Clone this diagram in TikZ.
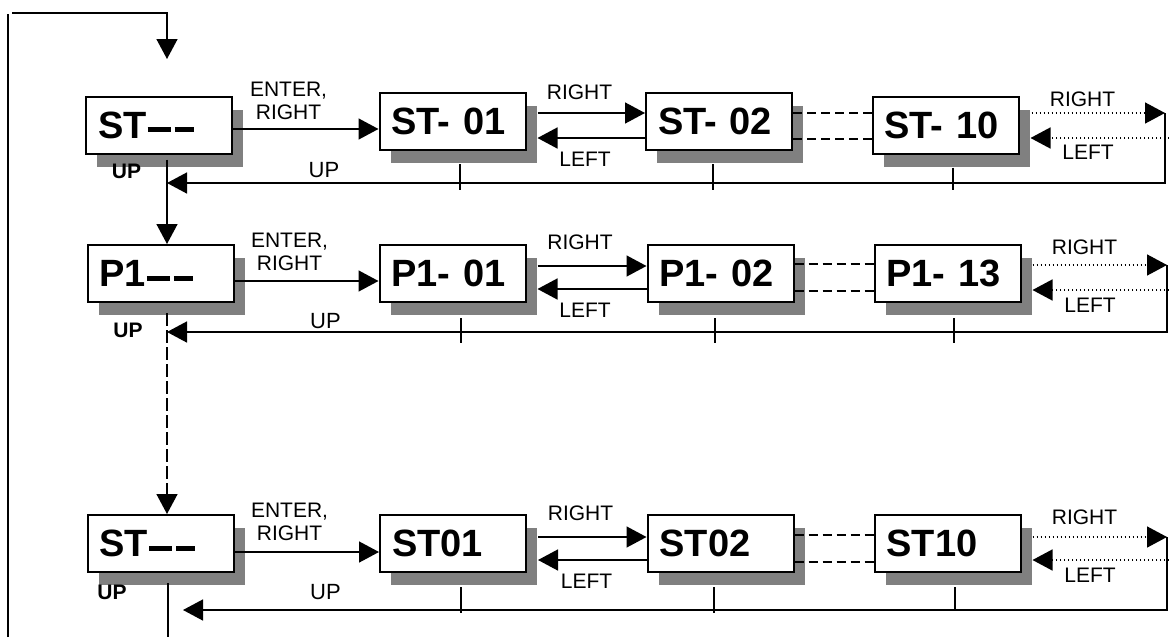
\documentclass[tikz,border=0pt]{standalone}
\usepackage{fontspec}
\setmainfont{Liberation Sans}
\usetikzlibrary{arrows.meta,shadows,calc}
\definecolor{shgray}{RGB}{128,128,128}
\newcommand{\dashpair}{\kern1pt\rule[6pt]{23pt}{5pt}\kern4pt\rule[6pt]{19pt}{5pt}}
\begin{document}
\begin{tikzpicture}[x=1pt,y=-1pt,
  box/.style={draw, line width=2pt, fill=white, minimum width=146pt, minimum height=57pt,
    text width=122pt, inner xsep=12pt, inner ysep=0pt, align=left,
    font=\fontsize{38}{40}\selectfont\bfseries,
    drop shadow={shadow xshift=11pt, shadow yshift=-13pt, fill=shgray, opacity=1, draw=none}},
  lbl/.style={font=\fontsize{21}{23}\selectfont, inner sep=0pt, align=center},
  upl/.style={font=\fontsize{22}{24}\selectfont, inner sep=0pt},
  bup/.style={font=\fontsize{21}{23}\selectfont\bfseries, inner sep=0pt},
  con/.style={line width=1.5pt},
  arr/.style={con, -{Triangle[length=20pt 0 0,width=21pt 0 0]}},
  dsh/.style={con, dash pattern=on 9pt off 5pt},
  vdsh/.style={con, dash pattern=on 13pt off 4pt},
  dtt/.style={con, dash pattern=on 1.5pt off 2.5pt},
]
\useasboundingbox (0,0) rectangle (1169,637);

% ---------- boxes ----------
\node[box] (A1) at (159,125) {ST\dashpair};
\node[box] (B1) at (452.5,121.5) {ST- 01};
\node[box] (C1) at (719,121.5) {ST- 02};
\node[box] (D1) at (945.5,125) {ST- 10};

\node[box] (A2) at (160.5,273.5) {P1\dashpair};
\node[box] (B2) at (452.5,273.5) {P1- 01};
\node[box] (C2) at (720.5,273.5) {P1- 02};
\node[box] (D2) at (947.5,273.5) {P1- 13};

\node[box] (A3) at (160.5,543.5) {ST\dashpair};
\node[box] (B3) at (453,543.5) {ST01};
\node[box] (C3) at (720.5,543.5) {ST02};
\node[box] (D3) at (947.5,543.5) {ST10};

% shadow edges
\coordinate (B1s) at ($(B1.east)+(11,0)$);
\coordinate (D1s) at ($(D1.east)+(11,0)$);
\coordinate (B2s) at ($(B2.east)+(11,0)$);
\coordinate (D2s) at ($(D2.east)+(11,0)$);
\coordinate (B3s) at ($(B3.east)+(11,0)$);
\coordinate (D3s) at ($(D3.east)+(11,0)$);

% ---------- outer loop ----------
\coordinate (T0) at (8,637);
\coordinate (T1) at (8,14);
\coordinate (T2) at (12,13);
\coordinate (T3) at (167,59);
\draw[con] (T0) -- (T1);
\draw[arr] (T2) -| (T3);

% ---------- row 1 ----------
\coordinate (en1) at ($(A1.east)+(0,4)$);
\coordinate (ri1) at ($(B1s)+(0,-8.5)$);
\coordinate (le1) at ($(C1.west)+(0,16.5)$);
\coordinate (da1) at ($(C1.east)+(0,-8.5)$);
\coordinate (db1) at ($(C1.east)+(0,17.5)$);
\coordinate (do1) at ($(D1.east)+(12,-12)$);
\coordinate (R1) at (1165,113);
\coordinate (E1) at (1169,138);
\coordinate (U1) at (167,183);
\coordinate (v1) at ($(A1.south)+(8,5)$);
\draw[arr] (en1) -- (en1 -| B1.west);
\draw[arr] (ri1) -- (ri1 -| C1.west);
\draw[arr] (le1) -- (le1 -| B1s);
\draw[dsh] (da1) -- (da1 -| D1.west);
\draw[dsh] (db1) -- (db1 -| D1.west);
\draw[arr,dtt] (do1) -- (R1);
\draw[arr,dtt] (E1) -- (E1 -| D1s);
\draw[arr] (R1) |- (U1);
\draw[arr] (v1) -- (v1 |- A2.north);
\draw[con] ($(B1.south)+(7.5,13)$) -- ++(0,26);
\draw[con] ($(C1.south)+(-6,13)$) -- ++(0,26);
\draw[con] ($(D1.south)+(7.5,13)$) -- ++(0,22);

\node[lbl] (e1) at (288.5,101) {ENTER,\\RIGHT};
\node[bup] (u1) at (126.5,171) {UP};
\node[upl] (up1) at (324,170.5) {UP};
\node[lbl] (r1) at (579.5,92) {RIGHT};
\node[lbl] (lf1) at (585,159.5) {LEFT};
\node[lbl] (r1b) at (1082.5,99) {RIGHT};
\node[lbl] (lf1b) at (1088,152.5) {LEFT};

% ---------- row 2 ----------
\coordinate (en2) at ($(A2.east)+(0,7.5)$);
\coordinate (ri2) at ($(B2s)+(0,-7.5)$);
\coordinate (le2) at ($(C2.west)+(0,15.5)$);
\coordinate (da2) at ($(C2.east)+(0,-9.5)$);
\coordinate (db2) at ($(C2.east)+(0,17.5)$);
\coordinate (do2) at ($(D2s)+(0,-8.5)$);
\coordinate (R2) at (1167,265);
\coordinate (E2) at (1169,290);
\coordinate (U2) at (167,332);
\coordinate (v2) at ($(A2.south)+(6.5,10)$);
\draw[arr] (en2) -- (en2 -| B2.west);
\draw[arr] (ri2) -- (ri2 -| C2.west);
\draw[arr] (le2) -- (le2 -| B2s);
\draw[dsh] (da2) -- (da2 -| D2.west);
\draw[dsh] (db2) -- (db2 -| D2.west);
\draw[arr,dtt] (do2) -- (R2);
\draw[arr,dtt] (E2) -- (E2 -| D2s);
\draw[arr] (R2) |- (U2);
\draw[arr,vdsh] (v2) -- (v2 |- A3.north);
\draw[con] ($(B2.south)+(8.5,15)$) -- ++(0,25);
\draw[con] ($(C2.south)+(-5.5,15)$) -- ++(0,25);
\draw[con] ($(D2.south)+(6.5,15)$) -- ++(0,25);

\node[lbl] (e2) at (289.5,252) {ENTER,\\RIGHT};
\node[bup] (u2) at (128,330) {UP};
\node[upl] (up2) at (325.5,321) {UP};
\node[lbl] (r2) at (580,242) {RIGHT};
\node[lbl] (lf2) at (585,310) {LEFT};
\node[lbl] (r2b) at (1084.5,247.5) {RIGHT};
\node[lbl] (lf2b) at (1090,305) {LEFT};

% ---------- row 3 ----------
\coordinate (en3) at ($(A3.east)+(0,8.5)$);
\coordinate (ri3) at ($(B3s)+(0,-6.5)$);
\coordinate (le3) at ($(C3.west)+(0,16.5)$);
\coordinate (da3) at ($(C3.east)+(0,-8.5)$);
\coordinate (db3) at ($(C3.east)+(0,18.5)$);
\coordinate (do3) at ($(D3s)+(0,-6.5)$);
\coordinate (R3) at (1167,537);
\coordinate (E3) at (1169,560);
\coordinate (U3) at (183,610);
\coordinate (v3) at ($(A3.south)+(7.5,10)$);
\coordinate (B0) at (168,637);
\draw[arr] (en3) -- (en3 -| B3.west);
\draw[arr] (ri3) -- (ri3 -| C3.west);
\draw[arr] (le3) -- (le3 -| B3s);
\draw[dsh] (da3) -- (da3 -| D3.west);
\draw[dsh] (db3) -- (db3 -| D3.west);
\draw[arr,dtt] (do3) -- (R3);
\draw[arr,dtt] (E3) -- (E3 -| D3s);
\draw[arr] (R3) |- (U3);
\draw[con] (v3) -- (B0);
\draw[con] ($(B3.south)+(8,14)$) -- ++(0,26);
\draw[con] ($(C3.south)+(-6.5,14)$) -- ++(0,26);
\draw[con] ($(D3.south)+(7.5,14)$) -- ++(0,24);

\node[lbl] (e3) at (289.5,522) {ENTER,\\RIGHT};
\node[bup] (u3) at (112,592.5) {UP};
\node[upl] (up3) at (325.5,592) {UP};
\node[lbl] (r3) at (580.5,513.5) {RIGHT};
\node[lbl] (lf3) at (586.5,581.5) {LEFT};
\node[lbl] (r3b) at (1084.5,517.5) {RIGHT};
\node[lbl] (lf3b) at (1090,575) {LEFT};
\end{tikzpicture}
\end{document}
